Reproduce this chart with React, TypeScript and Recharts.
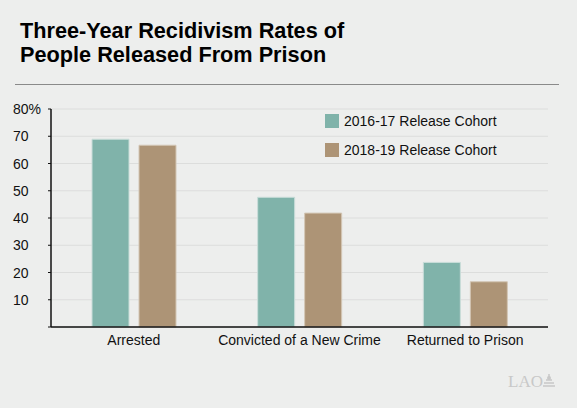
import React from "react";
import { BarChart, Bar, XAxis, YAxis, CartesianGrid, Legend } from "recharts";

const categories = ["Arrested", "Convicted of a New Crime", "Returned to Prison"];
const cohort1617 = [68.9, 47.6, 23.7];
const cohort1819 = [66.7, 41.8, 16.6];
const yTicks = [0, 10, 20, 30, 40, 50, 60, 70, 80];
const seriesNames = ["2016-17 Release Cohort", "2018-19 Release Cohort"];

const TEAL = "#80b3aa";
const TAN = "#ad9476";
const BG = "#edeeed";
const FONT = "'Liberation Sans', Arial, Helvetica, sans-serif";

const data = categories.map((name, i) => ({
  name,
  a: cohort1617[i],
  b: cohort1819[i],
}));

const YTick = (props: any) => {
  const { y, payload } = props;
  if (payload.value === 0) return null;
  const label = payload.value === 80 ? "80%" : String(payload.value);
  return (
    <text x={13} y={y} dy={5} fontSize={14} fill="#111" fontFamily={FONT}>
      {label}
    </text>
  );
};

const LegendBox = () => (
  <div style={{ fontFamily: FONT, fontSize: 14, color: "#111" }}>
    {seriesNames.map((s, i) => (
      <div key={s} style={{ display: "flex", alignItems: "center", height: 29 }}>
        <div
          style={{
            width: 14,
            height: 14,
            background: i === 0 ? TEAL : TAN,
            marginRight: 5,
          }}
        />
        <span>{s}</span>
      </div>
    ))}
  </div>
);

export default function App() {
  return (
    <div
      style={{
        position: "absolute",
        left: 0,
        top: 0,
        width: 577,
        height: 408,
        background: BG,
        fontFamily: FONT,
      }}
    >
      <div
        style={{
          position: "absolute",
          left: 20,
          top: 19,
          fontSize: 21.7,
          fontWeight: "bold",
          lineHeight: "24px",
          color: "#000",
        }}
      >
        Three-Year Recidivism Rates of
        <br />
        People Released From Prison
      </div>
      <div
        style={{
          position: "absolute",
          left: 15,
          top: 84,
          width: 544,
          height: 1,
          background: "#8a8a8a",
        }}
      />
      <BarChart
        width={577}
        height={408}
        data={data}
        margin={{ top: 109, right: 29, bottom: 51, left: 0 }}
        barSize={37}
        barGap={10}
      >
        <CartesianGrid vertical={false} stroke="#dcdddc" />
        <XAxis
          dataKey="name"
          axisLine={{ stroke: "#111", strokeWidth: 1.5 }}
          tickLine={false}
          tick={{ fontSize: 14, fill: "#111", fontFamily: FONT }}
          interval={0}
          height={30}
        />
        <YAxis
          width={51}
          domain={[0, 80]}
          ticks={yTicks}
          interval={0}
          axisLine={{ stroke: "#111", strokeWidth: 1.5 }}
          tickLine={{ stroke: "#111" }}
          tickSize={3}
          tick={<YTick />}
        />
        <Legend
          layout="vertical"
          verticalAlign="middle"
          align="center"
          content={<LegendBox />}
          wrapperStyle={{ top: 106, left: 325, width: 200 }}
        />
        <Bar
          dataKey="a"
          name={seriesNames[0]}
          fill={TEAL}
          stroke="#c9ddd9"
          strokeWidth={1}
          isAnimationActive={false}
        />
        <Bar
          dataKey="b"
          name={seriesNames[1]}
          fill={TAN}
          stroke="#d3c6b5"
          strokeWidth={1}
          isAnimationActive={false}
        />
      </BarChart>
      <div
        style={{
          position: "absolute",
          left: 508,
          top: 372,
          fontFamily: "'Liberation Serif', 'DejaVu Serif', serif",
          fontSize: 17,
          color: "#c8c8c8",
          display: "flex",
          alignItems: "flex-end",
        }}
      >
        <span>LAO</span>
        <svg width={14} height={16} style={{ marginLeft: -1, marginBottom: 3 }}>
          <path d="M7 1 L7 4 M4 7 L10 7 M2 10 L12 10 M1 13 L13 13" stroke="#c8c8c8" strokeWidth={1.5} fill="none" />
          <circle cx={7} cy={5} r={2} fill="#c8c8c8" />
        </svg>
      </div>
    </div>
  );
}
